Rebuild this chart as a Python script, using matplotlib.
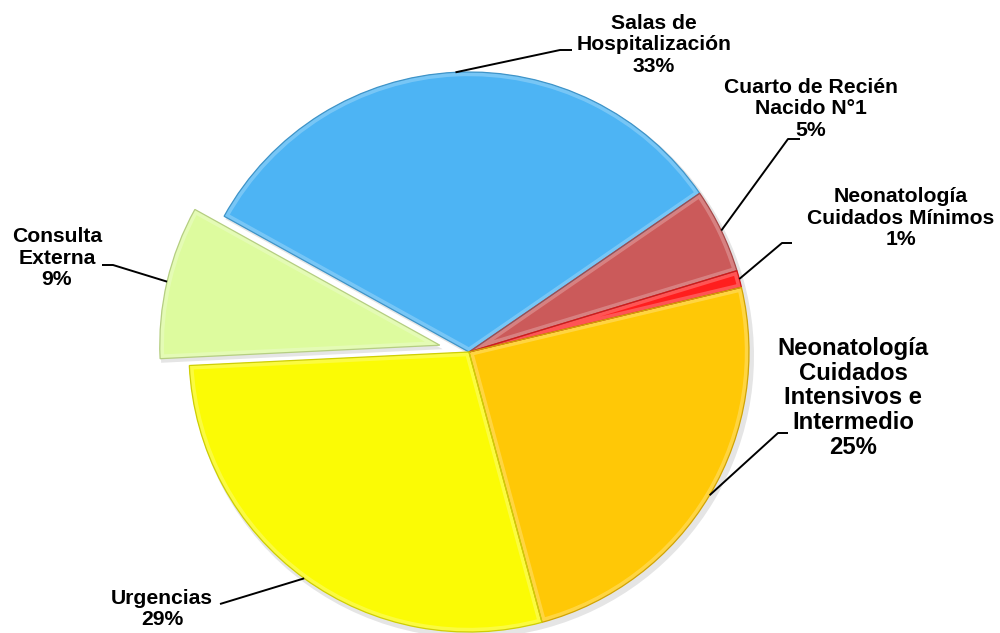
import matplotlib
matplotlib.use("Agg")
import matplotlib.pyplot as plt
import matplotlib.patches as mpatches
import matplotlib.colors as mcolors
import numpy as np

plt.rcParams['font.family'] = ['Liberation Sans', 'DejaVu Sans']

# ---------------- data ----------------
categories = ["Salas de\nHospitalización", "Cuarto de Recién\nNacido N°1",
              "Neonatología\nCuidados Mínimos",
              "Neonatología\nCuidados\nIntensivos e\nIntermedio",
              "Urgencias", "Consulta\nExterna"]
values = [33, 5, 1, 25, 29, 9]
colors = ["#4DB4F4", "#CB5A5A", "#FF1E1E", "#FFC806", "#FBFB05", "#DDFB9E"]

# ---------------- layout (pixel coords, y from top) ----------------
W, H = 1000, 633
CX, CY, R = 469, 352, 280
explode_px = [0, 0, 0, 0, 0, 30]
# label text centre, elbow point, end of horizontal tick, font size
label_pos = [(654, 45), (811, 109), (901, 218), (853, 398), (162, 609), (57, 258)]
elbow = [(560, 50), (788, 139), (782, 243), (778, 433), (220, 604), (113, 265)]
tick_end = [(572, 50), (800, 139), (792, 243), (788, 433), (220, 604), (102, 265)]
fsizes = [15.2, 15.2, 15.2, 17.2, 15.2, 15.2]
lspace = [1.14, 1.14, 1.14, 1.1, 1.1, 1.14]


def P(x, y):
    return x, H - y


fig = plt.figure(figsize=(W / 100, H / 100), dpi=100)
ax = fig.add_axes([0, 0, 1, 1])

wedges, _ = ax.pie(values, colors=colors, center=P(CX, CY), radius=R,
                   startangle=151, counterclock=False, explode=explode_px,
                   wedgeprops=dict(linewidth=0))
ax.set_xlim(0, W)
ax.set_ylim(0, H)
ax.set_aspect('equal')
ax.axis('off')

# shadow behind pie
for w in wedges:
    sh = mpatches.Wedge((w.center[0] + 3, w.center[1] - 4), w.r + 2, w.theta1, w.theta2,
                        facecolor="#000000", alpha=0.10, linewidth=0, zorder=0.5)
    ax.add_patch(sh)

# bevel-like rim
for w, c in zip(wedges, colors):
    rgb = np.array(mcolors.to_rgb(c))
    light = 1 - (1 - rgb) * 0.7
    dark = rgb * 0.82
    rim = mpatches.Wedge(w.center, w.r, w.theta1, w.theta2, facecolor="none",
                         edgecolor=light, linewidth=6, zorder=2, alpha=0.8)
    rim.set_clip_path(w)
    ax.add_patch(rim)
    rim2 = mpatches.Wedge(w.center, w.r, w.theta1, w.theta2, facecolor="none",
                          edgecolor=dark, linewidth=0.9, zorder=2.1)
    ax.add_patch(rim2)

# labels & leader lines
for i, (w, cat, v) in enumerate(zip(wedges, categories, values)):
    mid = np.deg2rad((w.theta1 + w.theta2) / 2)
    ax_x = w.center[0] + w.r * np.cos(mid)
    ax_y = w.center[1] + w.r * np.sin(mid)
    ex, ey = P(*elbow[i])
    tx, ty = P(*tick_end[i])
    ax.plot([ax_x, ex, tx], [ax_y, ey, ty], color="black", lw=1.4, zorder=3,
            solid_capstyle='butt')
    lx, ly = P(*label_pos[i])
    ax.text(lx, ly, f"{cat}\n{v}%", ha="center", va="center", multialignment="center",
            fontsize=fsizes[i], fontweight="bold", linespacing=lspace[i], zorder=4)

fig.savefig("out.png", dpi=100)
